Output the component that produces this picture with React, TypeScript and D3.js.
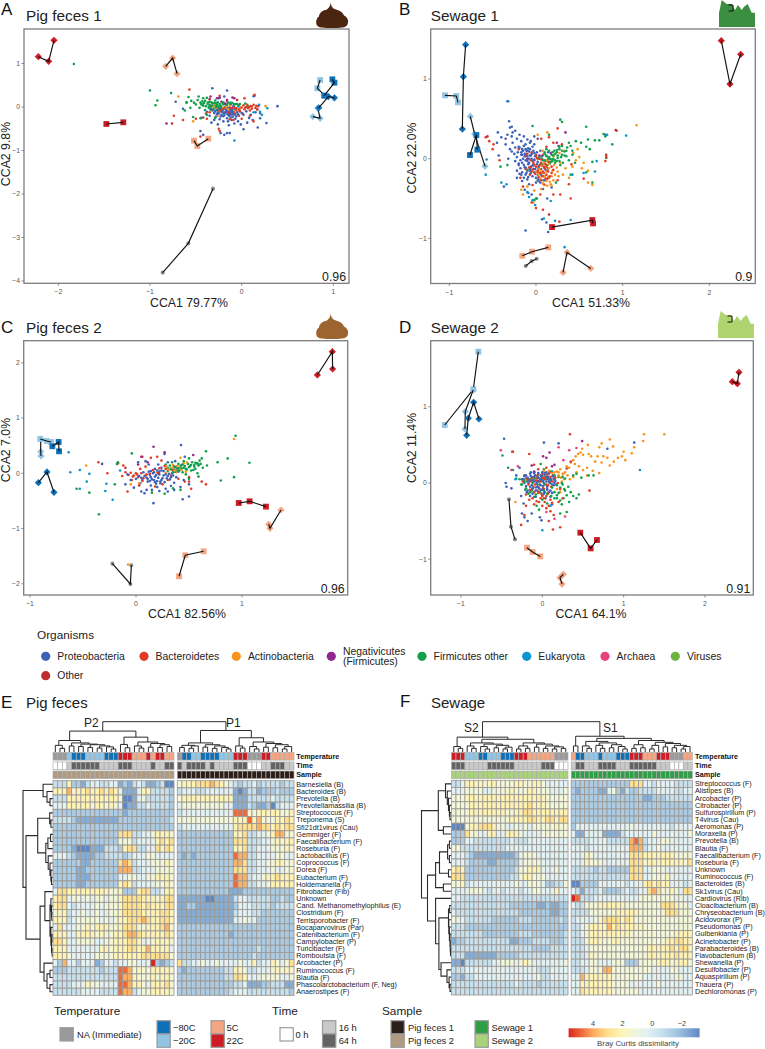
import * as d3 from 'd3';

const FONT = '"Liberation Sans", Arial, sans-serif';

// organisms legend
const taxonNames = ['Proteobacteria', 'Bacteroidetes', 'Actinobacteria', 'Negativicutes', 'Firmicutes other', 'Eukaryota', 'Archaea', 'Viruses', 'Other'];
const taxonColors = ['#3c62b8', '#e23b26', '#f7941d', '#92278f', '#12a14b', '#0a95d1', '#e8417f', '#6db33f', '#be2d2d'];
const taxonLegendX = [45.7, 144, 236.3, 331.3, 422, 526.7, 605, 675.3, 45.7];

// sample temperature colours
const tempColors: Record<string, string> = { N: '#9a9a9a', B: '#0f70b7', L: '#92c5e3', S: '#f4a582', R: '#cc1c25' };
const timeColors: Record<string, string> = { W: '#ffffff', L: '#c9c9c9', D: '#636363' };

// cloud points: flat x,y lists per taxon
const aProteo = [-.15,-.02,-.2,-.05,-.12,-.08,-.25,-.1,-.18,-.12,-.1,-.15,-.22,-.18,-.14,-.2,-.28,-.03,-.08,-.04,-.05,-.12,-.3,-.14,-.16,-.26,-.24,-.28,-.06,-.22,-.02,-.09,-.35,-.2,-.11,-.3,-.2,-.33,-.3,-.3,-.04,-.33,.02,-.18,.05,-.1,.08,-.25,.12,-.3,.15,-.12,.175,-.47,.27,-.37,.39,.02,.2,-.26,.13,.25,-.16,.38,-.32,.43,-.45,-.55,-.42,-.64,-.23,-.6,-.19,-.64,-.16,-.6,-.13,-.6,.02,-.51,-.64,-.04,-.72,.12,-.33,-.36,-.26,-.4,-.14,-.42,-.08,-.38,-.01,-.4,.06,-.36,-.21,-.08,-.17,.03,-.09,.02,-.13,-.14,-.19,-.15,-.23,-.22,-.27,-.16,-.32,-.08,-.38,-.11,-.42,-.24,-.07,-.27,.17,-.05,.2,-.14,.1,-.18,-.11,-.11,-.16,-.1,-.21,-.03,-.12,.06,-.07,.07,.14,.26,-.6,.11,-.23,.03,-.2,.1,-.35,.02,-.25,.2,-.19,.24,-.17,-.06,-.13,-.02,-.1,-.09,-.16,-.15,-.2,-.21,-.12,-.24,-.09,-.18,-.26,-.13,-.24,-.02,-.15,-.33,-.28,-.22];
const aBacte = [-.57,.4,-.74,-.2,-.64,-.3,-.45,-.68,-.44,-.25,-.38,-.27,-.5,-.27,-.39,-.15,-.24,.26,-.16,.14,.03,-.05,.07,-.03,.1,.02,.13,.05,.16,.03,.18,.02,.02,.04,-.02,-.1,-.06,-.07,-.1,-.03,-.13,-.28,-.03,-.2,.13,-.33,0,-.27,.05,0,-.25,-.5,-.24,-.55,-.18,.07,.14,.28,.03,.2,.09,-.2,-.09,-.3,-.22,-.05,.01,-.15,.09,-.08,.17,-.06,-.35,-.12,-.14,-.05,-.08,-.01,.11,-.04,.06,.05,-.01,-.02];
const aActino = [-.69,.24,-.53,-.33,.26,.02,-.28,-.04,-.24,-.11,-.3,.06,-.15,-.05,-.2,-.02,-.13,.03,-.08,-.1,-.02,-.03,-.36,.1,-.26,-.2,-.17,.01,-.31,0];
const aNega = [-.82,-.38,-.34,.24,-.27,.2,-.16,.16,-.1,.22,-.22,.12,-.18,.08,-.13,-.17,-.24,.22,-.08,.2];
const aFirmi = [-1.83,.99,-1,.38,-.77,.32,-.92,.15,-.94,.04,-.58,.23,-.55,.14,-.6,.1,-.56,-.02,-.5,.06,-.48,.16,-.45,.1,-.42,.03,-.4,.14,-.37,.07,-.36,-.02,-.33,.11,-.31,.04,-.3,-.03,-.28,.09,-.26,.02,-.24,.07,-.46,-.02,-.52,.1,-.42,.2,-.38,.21,-.29,.15,-.22,-.01,-.2,.06,-.18,0,-.34,-.06,-.4,-.07,-.47,.24,-.1,.09,-.05,.07,-.02,.07,.04,.08,.07,.02,-.53,-.23,-.45,-.26,-.62,-.08,-.38,-.18,-.29,-.25,-.15,.1,-.35,.05,-.32,.08,-.27,-.01,-.44,.06,-.41,.09,-.34,0];
const aEuka = [-.08,-.77,.28,-.03,.2,-.11,.19,.05,.22,-.18,.13,-.12,-.12,.1,-.04,.01];
const aOther = [-.76,-.38,-.05,.16,-.35,.18];
const aCoreProteo = [-.27,-.07,-.23,-.04,-.2,-.13,-.17,-.09,-.14,-.11,-.11,-.06,-.09,-.12,-.07,-.17,-.15,-.17,-.12,-.18,-.22,-.11,-.19,-.19,-.25,-.15,-.29,-.1,-.33,-.05,-.04,-.17,0,-.14,-.1,-.23];
const aCoreFirmi = [-.43,.06,-.39,.02,-.37,.1,-.35,.12,-.33,.03,-.3,.09,-.28,.02,-.26,.11,-.23,.03,-.21,.1,-.34,-.03,-.31,-.06,-.27,.06,-.25,-.04,-.43,.13,-.16,.05,-.13,.08,-.08,.06,-.03,.04];
const aCoreBacte = [-.19,-.03,-.12,-.02,-.06,-.03,-.03,-.06,0,-.01,.04,-.01,.08,0,.11,.01,-.08,-.14,-.15,-.13,.15,-.02,-.24,-.08];

const bProteo = [-.33,.72,-.31,.47,-.3,.39,-.28,.28,-.35,.25,-.44,.33,-.4,.27,-.45,.2,-.35,.18,-.3,.12,-.27,.2,-.22,.25,-.2,.15,-.17,.22,-.12,.18,-.15,.1,-.25,.06,-.32,0,-.22,.02,-.18,-.02,-.13,.03,-.08,.09,-.04,.15,-.1,-.03,-.05,0,-.14,-.08,-.18,-.12,-.22,-.15,-.1,-.15,-.06,-.1,0,.05,.02,-.04,.05,.1,-.03,-.07,.06,-.13,.02,-.2,-.04,-.22,-.1,-.26,-.16,-.28,-.22,-.24,-.08,-.32,0,-.3,.05,-.3,.09,-.22,.14,-.12,.1,-.03,.14,.08,-.24,.14,-.28,.09,-.37,-.35,-.43,.04,-.12,-.9,-.1,.1,-.16,.05,-.12,.12,-.07,.2,-.02,.28,-.27,.33,.02,.25,-.28,.4,-.33,.3,-.24,.35,-.19,.3,-.14,.28,-.1,.24,-.06,.22,-.02,.18,-.21,.08,-.17,.05,-.11,.06,-.07,.04,-.02,.07,-.24,-.03,-.2,-.08,-.16,-.17,-.12,-.2,-.07,-.15,-.03,-.13,-.08,-.05,-.12,-.11,-.19,-.19,.03,-.25,.1,-.27,-.13,-.39,-.09,-.43,-.05,-.45,.01,-.5,.08,-.38,.13,-.5,.18,-.36,.12,-.8,.07,-.76,.14,-.92,.8,.3];
const bBacte = [-.58,.27,-.54,.22,-.5,.12,-.49,.18,-.42,-.02,-.2,.12,-.12,.03,-.05,.08,-.02,-.08,.03,-.12,.06,-.05,.09,-.18,.12,-.1,.15,-.04,.02,-.17,-.07,-.2,-.12,-.13,-.02,-.02,.04,.03,.08,.05,.12,.15,.06,.25,.15,.27,.2,.2,.25,.38,.3,.18,.25,-.27,.38,-.32,.2,-.45,.28,-.45,.05,-.45,-.05,-.55,-.04,-.33,.09,-.32,.15,-.24,.18,-.18,.11,-.25,-.15,-.35,-.18,-.24,.4,-.5,.08,-.64,.27,-.79,0,-.62,.93,.35,.81,.02,.8,-.03,.55,-.25,.41,-.07,.01,.01,.07,-.08,-.06,-.11,.13,-.15];
const bActino = [1.16,.42,.13,.33,.02,.3,.08,.1,.1,-.05,.15,-.12,.18,-.22,.21,-.08,.25,-.16,.28,-.05,.31,-.2,.34,-.12,.38,-.24,.42,-.1,.46,-.02,.5,.02,.55,-.05,.6,-.15,.6,-.3,.65,-.33,.05,-.25,.1,-.33,.06,-.38,.17,-.32,-.1,-.35,-.17,-.39,-.15,-.45,-.02,-.4,-.03,-.55,.03,-.2,.2,.03,.12,-.02,.27,.07,.32,.1,.43,.07,.48,.12,.53,-.12];
const bNega = [.34,.33,.26,.16,.17,.07,.24,.2,-.1,0,.04,.04];
const bFirmi = [.28,.49,.3,.46,-.04,.41,.15,.3,.58,.4,.78,.31,.8,.28,.88,.18,.73,.23,.68,.23,.6,.24,.52,.2,.58,.15,.62,.12,.46,.22,.38,.2,.35,.1,.3,.1,.25,.04,.2,0,.18,.05,.15,.02,.13,-.03,.08,-.02,.1,.08,.17,-.04,.22,-.02,.28,-.08,.33,.04,.38,-.02,.42,.1,.45,-.05,.27,.12,.24,.08,.21,.1,.12,.12,.05,-.07,-.1,-.14,.02,-.27,.23,-.3,.4,-.2,.65,-.04,.81,.01,.58,-.17,.65,-.3,-.41,-.1,-.33,-.08,-.02,-.52,0,-.5,.16,0,.19,-.03,.12,.03,.29,.02,.24,-.03];
const bEuka = [-.32,.72,1.04,.29,.82,.3,-.57,-.01,-.58,-.2,-.4,-.3,-.34,-.32,-.1,-.42,-.01,-.58,-.04,-.52,.09,-.75,.22,-.78,.4,-.77,.33,-1.11,.42,-.2,.55,-.18,.17,-.53,-.08,-.48,.7,-.03,.68,-.16];
const bOther = [-.56,.28,.92,.36,.81,.05,.15,-.7];
const bCoreProteo = [-.19,.14,-.16,.12,-.14,.16,-.11,.1,-.09,.13,-.07,.12,-.05,.06,-.03,.1,-.01,.03,.01,.08,-.17,.08,-.13,.06,-.1,.03,-.08,0,-.06,.04,-.04,-.03,-.02,-.01,-.15,0,-.12,-.02,-.09,-.07,-.16,-.05,-.13,-.11,-.2,-.06,-.07,-.13,-.04,-.09,-.01,-.13,.01,-.07,.03,-.1,.04,0,.07,.03,-.11,-.18,-.06,-.18,-.02,-.17,0,-.24,.03,-.28,-.09,-.23,-.14,-.24,-.17,-.2,.06,-.2,.09,-.27,.11,-.14];
const bCoreBacte = [-.1,.06,-.06,-.02,-.03,-.05,0,-.1,.02,-.15,.05,-.18,.07,-.22,.1,-.12,.12,-.2,-.04,-.14,-.08,-.11,-.01,-.19,.03,-.23,.06,-.27,.09,-.1,0,.04,.04,-.08,.08,-.16,.11,-.07,.14,-.16,.16,-.22,.18,-.1,.2,-.14,.13,-.25,.06,-.01,.02,0,-.05,-.16];
const bCoreActino = [.04,-.13,.07,-.18,.09,-.06,.12,-.16,.14,-.23,.16,-.29,.19,-.15,.22,-.2,.24,-.11,.1,-.22,.12,-.28,.03,-.19,.06,-.09,.15,-.07,.26,-.22,.2,-.27,.08,-.31,.13,-.34,.18,-.34,.05,-.16,0,-.16];
const bCoreFirmi = [.04,.02,.07,0,.1,-.02,.12,.04,.14,0,.16,-.06,.18,-.01,.2,.04,.22,-.05,.25,.01,.27,-.03,.3,.05,.19,.08,.15,.1,.1,.06,.07,-.07,.13,-.08,.22,.06,.31,-.05,.33,.09,.35,.03,.24,.11,.27,.15,.36,.14,.42,.05,.4,.16,.3,.16];

const cProteo = [.165,-.54,.425,.51,-.32,.17,0,-.1,.03,-.05,.06,-.12,.1,-.08,.13,-.03,.15,-.11,.18,-.06,.2,-.14,.22,-.02,.25,-.09,.27,-.16,.3,-.05,.32,-.11,.34,0,.36,-.17,.38,-.07,.4,.03,.12,.16,.18,.08,.24,.1,.3,.2,.42,-.25,.45,-.12,.5,-.2,.36,-.3,.28,-.28,.2,-.25,.14,-.22,.08,-.36,.05,-.33,-.02,-.26,-.1,-.2,-.08,-.02,.02,.2,.09,.22,.15,-.3,.22,-.32,.3,-.33,.44,-.47,.5,-.42,.22,.03,.26,.04,.17,.02,.23,-.18,.33,-.23,.37,.22,.46,.3,.38,.1,.43,.15,.27,.35,.11,-.15,.1,-.3,.04,-.18,.19,-.19,-.05,-.12,.21,.16,.14,.04];
const cBacte = [-.355,.2,-.27,0,-.17,.18,-.12,.14,-.1,.02,-.13,-.05,-.07,-.03,-.04,-.12,0,0,.04,.08,.09,.12,-.08,-.33,.02,-.07,.06,.3,.14,.28,.2,.3,.24,.23,.18,-.24,.25,-.2,.4,-.1,.46,-.15,.5,-.15,.52,-.28,.5,-.07,.62,-.15,.66,-.2,.28,.08,.1,-.02,-.03,-.06,.07,-.09,.34,.06,.3,-.12];
const cActino = [.925,.62,-.47,.14,-.075,-1.65,.32,.08,.35,.15,.38,.02,.41,.1,.45,.18,.48,.2,.28,.01,-.05,-.2,.03,-.18,.2,.02,.42,.28,.47,.03];
const cNega = [.165,.48,.54,.33,.11,.2,.02,.16,.05,.3,.27,.38];
const cFirmi = [.94,.68,.865,.27,1.07,.19,.925,-.07,.8,-.13,.77,.2,.67,.14,-.35,-.74,-.56,-.28,-.44,-.35,-.04,.36,.66,.4,.62,.27,.6,.23,.58,.18,.55,.15,.53,.2,.51,.13,.49,.17,.47,.08,.45,.1,.42,.13,.4,.17,.38,.12,.36,.07,.34,.2,.32,.14,.3,.1,.28,.16,.52,.05,.56,.08,.59,.14,.63,.1,.41,.05,.45,.22,.5,.27,.54,.06,.58,0,.59,-.06,.5,-.1,.57,.18,.61,.17,.35,-.27,.42,-.3,.27,-.37,.15,-.35,-.17,.2,-.18,.17,-.2,-.2,.35,.02,.47,-.02,.44,.02];
const cEuka = [-.635,.38,-.62,.02,-.53,.06,-.44,-.01,-.465,-.15,-.53,-.28,-.29,-.32,-.28,-.19,-.22,-.48,-.15,.05];
const cOther = [-.1,.1,.03,-.22,.21,0];
const cCoreProteo = [.05,-.08,.08,-.05,.11,-.1,.14,-.07,.17,-.12,.19,-.03,.21,-.08,.24,-.12,.26,-.04,.29,-.09,.31,-.01,.33,-.07,.16,0,.12,.03,.2,.05,.24,.05,.28,-.02,.23,-.15,.18,-.16,.13,-.14,.35,-.04,.07,.02];
const cCoreFirmi = [.3,.04,.33,.08,.36,.12,.39,.06,.43,.09,.46,.13,.48,.07,.5,.11,.52,.15,.55,.12,.56,.19,.59,.16,.44,.16,.4,.09,.37,.03];
const cCoreBacte = [-.02,-.04,.01,-.02,.05,0,.09,-.04,.13,-.01,.22,.09,.27,.13,.33,-.04,-.05,.01,.06,-.14,.16,.06];
const cCoreActino = [.31,.06,.34,.1,.37,.05,.39,.13,.43,.06,.29,.12];

const dProteo = [-.47,.58,1.13,.53,.8,.45,-.45,0,-.44,-.05,-.38,-.07,-.32,.1,-.28,.2,-.24,.05,-.2,.1,-.17,0,-.15,-.05,-.12,.07,-.1,.02,-.08,-.06,-.06,.08,-.04,.02,-.02,-.03,0,.06,.02,0,.04,.08,.06,-.05,.08,.02,.1,.06,.12,-.02,-.18,-.1,-.12,-.14,-.08,-.18,-.04,-.12,0,-.16,.04,-.2,.1,-.18,-.26,-.17,-.23,-.27,-.25,-.4,-.22,-.45,-.18,-.5,-.13,-.4,-.03,-.45,-.01,-.49,-.01,.05,.02,.53,.2,.52,.12,-.28,-.14,.14,-.1,.15,-.05,.12,.03,.13,.08,.12,-.1,.08,-.06,.03,-.02,.1,.03,.05,-.13,.03,-.16,.05,.14,.06,.15,0,.06,-.09,.08,-.12,-.02,-.09];
const dBacte = [.34,.64,-.37,.41,.58,-.1,-.16,.38,-.1,.24,-.05,.18,0,.12,.05,.2,.09,.14,.13,.1,-.22,.1,-.14,.02,-.09,-.02,-.03,.04,.02,-.08,.07,-.14,.11,-.05,-.2,-.15,-.16,-.22,-.1,-.28,-.04,-.25,0,-.3,.05,-.33,.1,-.37,.14,-.42,.08,-.5,.13,-.61,.22,-.58,-.2,-.3,-.26,-.55,-.22,-.42,.2,-.25,.25,-.2,.35,.28,.3,.19,-.06,-.1,-.02,.05,.05,-.02,.1,.02,.02,.07,-.12,-.08,-.07,.06,-.01,-.14,.02,-.2];
const dActino = [1.5,.64,1.25,.64,1.24,.55,.83,.57,.73,.52,.87,.48,.7,.47,.56,.5,.49,.45,1.13,.47,1.1,.39,1,.41,.98,.35,1.02,.3,.88,.28,.8,.33,.75,.35,.68,.35,.65,.28,.6,.35,.57,.38,.5,.37,.47,.4,.44,.38,.41,.35,.38,.3,.35,.27,.33,.2,.3,.22,.28,.14,.25,.12,.22,.18,.2,.14,.4,.25,.45,.22,.5,.17,.55,.2,.62,.16,.7,.13,.55,.1,.42,.14,.38,.08,.34,.05,.31,.1,.27,.05,.24,.02,.93,.33,.73,.27,.83,.23,-.33,-.25];
const dNega = [.49,.55,.09,.4,.05,.33,.01,.35,.12,.22,.15,.24,-.13,.23,-.1,.14];
const dFirmi = [-.49,.36,-.36,.41,-.42,.2,-.36,.17,-.32,.06,-.28,.05,-.25,-.02,-.22,.03,-.2,-.07,-.15,-.12,-.1,-.18,-.05,.02,0,.1,.05,.08,.1,0,.15,.05,.18,-.03,.2,.08,.22,-.06,.25,-.02,.28,-.1,.3,-.16,.35,-.12,.38,-.17,.42,-.2,.45,-.15,.26,-.2,.22,-.23,.18,-.16,.15,-.2,.42,.12,.48,.07,.57,.1,.63,.1,.38,.1,.1,.15,.06,-.27,0,-.22,-.07,-.3,-.04,-.35,.22,-.4,.3,-.38,.24,-.28,.33,-.25,.02,.18,-.02,.25];
const dEuka = [1.2,.17,0,-.62,-.33,.05,.12,.15,.1,-.3];
const dOther = [-.51,.43,.2,.47,.33,.43,.42,.46,.15,-.47,.28,-.44,.05,-.38,-.3,.22,.26,.3,-.38,.17];
const dCoreProteo = [-.25,.05,-.22,0,-.2,-.04,-.18,.07,-.16,.03,-.14,.09,-.13,-.03,-.11,.04,-.09,.1,-.07,0,-.05,.07,-.03,-.02,-.01,.09,.01,.03,.03,.11,.05,.02,.07,.08,.09,0,.11,.04,.13,.09,.14,-.03,.16,.03,-.12,-.07,-.08,-.1,-.04,-.07,0,-.09,.03,-.12,.06,-.08,.1,-.1,-.15,.12,-.1,.13,-.05,.13,0,.14,.05,.14,-.19,-.12,-.15,-.17,.02,-.14,.12,-.13,-.22,.09,.07,.05,.01,-.04,-.06,-.05,-.02,.05];
const dCoreBacte = [-.24,.02,-.2,.06,-.17,-.02,-.13,.06,-.11,-.05,-.08,.03,-.05,-.05,-.02,.02,.01,-.07,.04,.05,.07,-.03,.1,.08,.13,.02,-.15,-.09,-.1,-.12,-.05,-.13,0,-.17,.05,-.17,.1,-.22,-.12,-.2,-.07,-.24,-.02,-.2,.03,-.25,.08,-.3,.12,-.26,-.18,.04,-.06,.1,0,.07,.06,.11,.16,.07,.19,0,.22,-.08];
const dCoreFirmi = [-.26,-.02,-.23,.05,-.19,.02,-.15,.05,-.12,0,-.09,.06,-.06,-.02,-.03,.06,0,.02,.03,-.02,.06,.06,.09,.04,.12,-.06,.15,.1,.17,-.02,.2,-.13,.24,0,.27,-.08,-.21,-.09,-.17,-.14,-.13,-.1,-.08,-.15,-.03,-.12,.02,-.1,.06,-.14,.11,-.17,.15,-.12,.18,-.2,.32,-.05,.28,.06,.25,.08];
const dCoreActino = [.2,.1,.23,.07,.26,.12,.18,.15,.15,.14,.12,.13,.08,.16,.22,-.12,.18,-.08,.02,.16];

type Marker = { temp: string; shape: string; pts: number[][] };

const aGroups: Marker[] = [
  { temp: 'R', shape: 'd', pts: [[-2.218, 1.157], [-2.105, 1.05], [-2.047, 1.533]] },
  { temp: 'R', shape: 's', pts: [[-1.476, -0.39], [-1.291, -0.352]] },
  { temp: 'S', shape: 'd', pts: [[-0.829, 0.935], [-0.753, 1.126], [-0.705, 0.766]] },
  { temp: 'S', shape: 's', pts: [[-0.52, -0.774], [-0.484, -0.897], [-0.364, -0.728]] },
  { temp: 'N', shape: 'c', pts: [[-0.862, -3.808], [-0.582, -3.134], [-0.313, -1.877]] },
  { temp: 'L', shape: 's', pts: [[0.855, 0.62], [0.825, 0.43], [0.91, 0.26]] },
  { temp: 'L', shape: 'd', pts: [[0.83, -0.03], [0.855, -0.26], [0.775, -0.22]] },
  { temp: 'B', shape: 's', pts: [[0.989, 0.636], [1.011, 0.559], [0.9, 0.26]] },
  { temp: 'B', shape: 'd', pts: [[1.011, 0.21], [0.945, 0.24], [0.84, -0.02]] },
];
const bGroups: Marker[] = [
  { temp: 'L', shape: 's', pts: [[-1.05, 0.795], [-0.919, 0.787], [-0.9, 0.707]] },
  { temp: 'L', shape: 'd', pts: [[-0.758, 0.531], [-0.708, 0.31], [-0.588, -0.096]] },
  { temp: 'B', shape: 'd', pts: [[-0.812, 1.431], [-0.838, 1.029], [-0.85, 0.372]] },
  { temp: 'B', shape: 's', pts: [[-0.762, 0.046], [-0.688, 0.297], [-0.677, 0.113]] },
  { temp: 'R', shape: 'd', pts: [[2.138, 1.481], [2.238, 0.937], [2.362, 1.31]] },
  { temp: 'R', shape: 's', pts: [[0.185, -0.858], [0.65, -0.77], [0.658, -0.812]] },
  { temp: 'S', shape: 's', pts: [[-0.158, -1.218], [-0.046, -1.167], [0.142, -1.113]] },
  { temp: 'S', shape: 'd', pts: [[0.312, -1.427], [0.358, -1.176], [0.631, -1.377]] },
  { temp: 'N', shape: 'c', pts: [[-0.119, -1.347], [-0.05, -1.285], [0.008, -1.255]] },
];
const cGroups: Marker[] = [
  { temp: 'L', shape: 'd', pts: [[-0.899, 0.621], [-0.899, 0.392], [-0.896, 0.314]] },
  { temp: 'L', shape: 's', pts: [[-0.903, 0.621], [-0.843, 0.585], [-0.802, 0.567]] },
  { temp: 'B', shape: 's', pts: [[-0.789, 0.489], [-0.73, 0.567], [-0.726, 0.398]] },
  { temp: 'B', shape: 'd', pts: [[-0.921, -0.169], [-0.84, 0.024], [-0.774, -0.344]] },
  { temp: 'R', shape: 'd', pts: [[1.711, 1.78], [1.852, 2.202], [1.855, 1.888]] },
  { temp: 'R', shape: 's', pts: [[0.969, -0.537], [1.072, -0.507], [1.226, -0.603]] },
  { temp: 'S', shape: 'd', pts: [[1.368, -0.664], [1.264, -0.995], [1.252, -0.923]] },
  { temp: 'S', shape: 's', pts: [[0.406, -1.864], [0.465, -1.484], [0.638, -1.412]] },
  { temp: 'N', shape: 'c', pts: [[-0.223, -1.635], [-0.053, -2.003], [-0.044, -1.665]] },
];
const dGroups: Marker[] = [
  { temp: 'L', shape: 's', pts: [[-0.787, 1.724], [-0.848, 1.23], [-1.2, 0.761]] },
  { temp: 'L', shape: 'd', pts: [[-0.951, 0.709], [-0.947, 0.937], [-0.85, 1.22]] },
  { temp: 'B', shape: 'd', pts: [[-0.93, 0.626], [-0.91, 0.85], [-0.844, 1.059], [-0.779, 0.84]] },
  { temp: 'R', shape: 'd', pts: [[2.336, 1.33], [2.398, 1.304], [2.418, 1.453]] },
  { temp: 'R', shape: 's', pts: [[0.467, -0.652], [0.594, -0.858], [0.672, -0.748]] },
  { temp: 'S', shape: 's', pts: [[-0.189, -0.849], [-0.119, -0.906], [-0.025, -0.963]] },
  { temp: 'S', shape: 'd', pts: [[0.258, -1.199], [0.217, -1.243], [0.242, -1.326]] },
  { temp: 'N', shape: 'c', pts: [[-0.41, -0.214], [-0.385, -0.573], [-0.336, -0.74]] },
];

const panels = [
  { letter: 'A', title: 'Pig feces 1', xLab: 'CCA1 79.77%', yLab: 'CCA2 9.8%', r2: '0.96', icon: 'poop', iconColor: '#4a2510',
    xTicks: [-2, -1, 0, 1], yTicks: [-4, -3, -2, -1, 0, 1], box: [24, 29, 349, 283.3],
    xm: [241.7, 91.7], ym: [107, 43.5], labelX: 1, titleX: 26, titleY: 20.7, letterY: 15, xLabX: 189, xLabY: 307, yLabX: 10, yLabY: 154,
    iconX: 316, iconY: 1.5,
    cloud: [aProteo, aBacte, aFirmi, aActino, aNega, aEuka, aOther, aCoreFirmi, aCoreProteo, aCoreBacte],
    cloudTaxa: [0, 1, 4, 2, 3, 5, 8, 4, 0, 1], groups: aGroups },
  { letter: 'B', title: 'Sewage 1', xLab: 'CCA1 51.33%', yLab: 'CCA2 22.0%', r2: '0.9', icon: 'sewage', iconColor: '#3a8f41',
    xTicks: [-1, 0, 1, 2], yTicks: [-1, 0, 1], box: [430.7, 29, 755.3, 283.5],
    xm: [536, 86.67], ym: [158.7, 79.7], labelX: 399, titleX: 430.7, titleY: 20.7, letterY: 15, xLabX: 591, xLabY: 307, yLabX: 416, yLabY: 158,
    iconX: 719, iconY: 0,
    cloud: [bProteo, bFirmi, bActino, bBacte, bNega, bEuka, bOther, bCoreProteo, bCoreFirmi, bCoreActino, bCoreBacte],
    cloudTaxa: [0, 4, 2, 1, 3, 5, 8, 0, 4, 2, 1], groups: bGroups },
  { letter: 'C', title: 'Pig feces 2', xLab: 'CCA1 82.56%', yLab: 'CCA2 7.0%', r2: '0.96', icon: 'poop', iconColor: '#9c6430',
    xTicks: [-1, 0, 1], yTicks: [-2, -1, 0, 1, 2], box: [23.7, 340.7, 347.7, 595],
    xm: [136, 106], ym: [473.3, 55.25], labelX: 1, titleX: 26, titleY: 333, letterY: 333, xLabX: 187, xLabY: 618, yLabX: 10, yLabY: 450,
    iconX: 316, iconY: 312.5,
    cloud: [cBacte, cProteo, cFirmi, cActino, cNega, cEuka, cOther, cCoreBacte, cCoreFirmi, cCoreProteo, cCoreActino],
    cloudTaxa: [1, 0, 4, 2, 3, 5, 8, 1, 4, 0, 2], groups: cGroups },
  { letter: 'D', title: 'Sewage 2', xLab: 'CCA1 64.1%', yLab: 'CCA2 11.4%', r2: '0.91', icon: 'sewage', iconColor: '#afd36f',
    xTicks: [-1, 0, 1, 2], yTicks: [-1, 0, 1], box: [430.7, 340.7, 753.3, 595],
    xm: [542.3, 81.33], ym: [483, 76.2], labelX: 399, titleX: 430.7, titleY: 333, letterY: 333, xLabX: 591, xLabY: 618, yLabX: 416, yLabY: 448,
    iconX: 718, iconY: 311,
    cloud: [dActino, dFirmi, dProteo, dBacte, dNega, dEuka, dOther, dCoreActino, dCoreFirmi, dCoreBacte, dCoreProteo],
    cloudTaxa: [2, 4, 0, 1, 3, 5, 6, 2, 4, 1, 0], groups: dGroups },
];

// heatmap E
const eRows = ['Barnesiella (B)', 'Bacteroides (B)', 'Prevotella (B)', 'Prevotellamassilia (B)', 'Streptococcus (F)', 'Treponema (S)', 'Sfi21dt1virus (Cau)', 'Gemmiger (F)', 'Faecalibacterium (F)', 'Roseburia (F)', 'Lactobacillus (F)', 'Coprococcus (F)', 'Dorea (F)', 'Eubacterium (F)', 'Holdemanella (F)', 'Fibrobacter (Fib)', 'Unknown', 'Cand. Methanomethylophilus (E)', 'Clostridium (F)', 'Terrisporobacter (F)', 'Bocaparvovirus (Par)', 'Catenibacterium (F)', 'Campylobacter (P)', 'Turicibacter (F)', 'Romboutsia (F)', 'Arcobacter (P)', 'Ruminococcus (F)', 'Blautia (F)', 'Phascolarctobacterium (F, Neg)', 'Anaerostipes (F)'];
const eLeft = ['33362 21344 33441 21343 11230 0', '66685 66766 76764 11146 63333 2', '33366 66666 66665 00145 33333 2', '44466 66656 65654 01133 43333 2', '22222 22222 22222 12222 22222 2', '33332 11111 11112 22222 22222 3', '22222 22222 22222 22222 22222 2', '22222 22222 22227 77334 45666 5', '22222 22222 22225 55344 44676 7', '22221 00011 13332 67733 44767 6', '44432 11112 23333 23444 55444 4', '22222 21122 22227 87344 45556 5', '22222 11222 22228 88334 44555 5', '22222 11122 22224 45544 55666 5', '22222 11222 22226 76344 44556 5', '47766 66666 66556 22267 73346 6', '67745 54545 54556 77776 66567 7', '67743 44445 45556 77776 76667 7', '56634 45445 44556 77776 66677 6', '66634 55555 45456 67778 76677 6', '47444 55656 66556 77755 66678 5', '66644 66665 65566 78876 66667 6', '77644 55554 45566 67764 55666 5', '66644 44444 66566 67766 86666 4', '66654 44445 55566 66667 77777 5', '42844 24441 24434 45544 4a212 3', '22233 33333 23339 98565 56666 5', '33333 33333 33339 88655 56566 5', '33334 44655 44449 98665 46667 5', '33333 34444 33339 88345 56666 5'];
const eRight = ['56667 77876 54323 34233 33233', '34443 34444 44101 33122 23222', '56666 66666 66111 33333 43333', '45555 55555 44111 32112 03444', '34444 44444 44999 55666 66556', '55555 55555 55666 96855 56676', '34444 44444 44677 77877 67677', '22222 22222 22667 33445 68855', '22222 22222 22777 33344 56566', '22222 22222 22667 33444 55565', '21212 22222 22988 33444 45544', '22222 22222 22887 33445 56655', '22222 22222 22777 33444 54455', '22222 22222 22988 34456 67666', '22222 22222 22988 33445 66666', '22222 22222 21112 22222 22222', '11111 10011 11344 33333 22322', '11221 11111 11244 43333 23333', '11111 11111 11344 43322 22222', '11111 11111 11445 44222 22222', '22222 22222 22222 22222 22222', '22222 22222 21222 22222 22222', '22222 22222 22222 22222 22222', '22222 22222 22222 22322 22222', '22222 22222 22222 23222 22222', '73344 54454 44454 46344 65457', '21222 22222 33665 33444 56565', '22222 22222 33776 44455 55445', '22222 22222 22334 11122 33311', '22222 22222 23444 33333 33332'];
const eLeftTemp = 'NNNLBBBLLLLBBBRRRSSSRSRRSS';
const eLeftTime = 'WWWLDDDDDDLLLLDDDLLLLDLLDD';
const eRightTemp = 'NBBLLBBBBLLLRRRNNNRRSSSSS';
const eRightTime = 'DLDDDDLDLLLLDDDWWWLLDDDLL';

// heatmap F
const fRows = ['Streptococcus (F)', 'Alistipes (B)', 'Arcobacter (P)', 'Citrobacter (P)', 'Sulfurospirillum (P)', 'T4virus (Cau)', 'Aeromonas (P)', 'Moraxella (P)', 'Prevotella (B)', 'Blautia (F)', 'Faecalibacterium (F)', 'Roseburia (F)', 'Unknown', 'Ruminococcus (F)', 'Bacteroides (B)', 'Sk1virus (Cau)', 'Cardiovirus (Rib)', 'Cloacibacterium (B)', 'Chryseobacterium (B)', 'Acidovorax (P)', 'Pseudomonas (P)', 'Gulbenkiania (P)', 'Acinetobacter (P)', 'Parabacteroides (B)', 'Flavobacterium (B)', 'Shewanella (P)', 'Desulfobacter (P)', 'Aquaspirillum (P)', 'Thauera (P)', 'Dechloromonas (P)'];
const fLeft = ['33466 66566 55556 65566 54444 4', '44455 55445 55565 55665 55444 5', '55566 66666 66666 66666 65555 5', '55556 66666 66666 66766 65555 5', '55556 66666 66556 67766 66666 6', '55555 55555 55566 66776 67767 7', '00056 67776 55445 45455 55565 5', '22275 54466 44666 54444 55555 5', '22244 33333 33343 33444 44444 4', '55333 33333 33444 44444 44444 4', '44432 11111 11112 45554 44444 4', '44432 22211 22222 45555 44444 4', '67622 22222 22223 55666 44454 4', '77722 22222 22233 56655 54444 4', '55634 44444 44445 44555 42233 5', '44445 55434 43444 34455 44464 4', '44333 33333 33333 33333 33333 3', '33333 33333 33322 22221 12112 2', '43333 33333 33333 22222 22112 2', '54433 33332 22222 33322 22223 2', '33322 22222 22222 22222 22222 2', '33333 33222 22222 33322 22222 3', '12233 33333 33311 22233 33222 3', '33333 33333 33333 33322 22333 3', '33311 11111 22222 33333 33333 3', '11033 33334 45554 56544 44444 5', '33344 44444 44444 44443 33444 4', '22133 44444 44444 44445 33444 4', '33333 33333 33334 33332 33333 3', '33333 33333 33333 33333 33333 3'];
const fRight = ['22222 22222 22277 74434 44433 33', '21222 21145 21322 33334 44433 44', '22222 22222 22222 21122 23333 33', '22222 22222 22222 22222 22222 22', '22222 22222 22222 22222 22222 22', '22222 22222 22222 22222 22222 22', '24444 44444 44454 44444 44344 44', '41144 44111 13444 44454 44444 45', '33334 44433 33389 83444 55444 44', '44434 44444 44488 83445 44444 44', '44465 44444 44477 76666 66655 55', '44465 55444 44477 75666 66666 57', '33333 23322 22277 74455 54444 44', '33333 33333 33377 74455 56444 44', '00222 24444 44344 46767 66444 34', '43133 34222 23433 44787 55654 77', 'a9333 44444 44444 55555 55545 44', '43355 56666 66555 55555 77765 54', '33335 55555 66666 55555 57775 55', '34444 55777 76765 55555 55555 55', '33456 66686 76666 65555 55555 55', '33456 66666 66655 55555 55566 66', '33356 66556 65555 55555 56677 66', '33345 55555 55555 55666 66767 76', '33346 55555 55555 55666 66676 66', '33445 54445 55222 55556 66566 65', '33345 55885 55555 55544 44554 44', '44866 66665 55555 54444 44455 44', '44666 66665 55544 44445 44444 44', '44766 66665 55555 44444 44444 44'];
const fLeftTemp = 'RRRLLLBBLLLBBBRRRSSSSSSNNN';
const fLeftTime = 'DDDLLLLLDDDDDDLLLLLLDDDWWW';
const fRightTemp = 'SBBLLLBLLLBBBRRRSSSRRRNNNSS';
const fRightTime = 'LDDLLLDDDDLLLDDDDDDLLLWWWLL';

const heatStops = ['#5f87c1', '#86add5', '#abcce4', '#c8e1ef', '#e2f1f3', '#f1f7d8', '#fdf3b4', '#fee08e', '#fcb262', '#ee6a3c', '#d7261e'];
const heatColor = d3.scaleLinear<string>().domain(d3.range(heatStops.length)).range(heatStops);

// dendrograms: [height, child, child], 0 is a leaf
type Dend = number | Dend[];
const eColTree: Dend = [1,
  [.69,
    [.38, [.22, 0, [.12, 0, 0]], [.3, [.2, 0, 0], [.26, [.18, 0, 0], [.24, [.15, 0, 0], [.2, [.13, 0, 0], [.17, 0, [.1, 0, 0]]]]]]],
    [.49, [.25, 0, [.14, 0, 0]], [.33, [.2, 0, [.13, 0, 0]], [.28, [.16, 0, 0], [.24, [.15, 0, 0], [.18, 0, 0]]]]]],
  [.71,
    [.3, [.22, [.15, 0, 0], [.2, [.12, 0, 0], 0]], [.24, [.16, 0, 0], [.2, [.12, 0, 0], [.15, 0, [.1, 0, 0]]]]],
    [.47, [.2, 0, [.13, 0, 0]], [.33, [.18, 0, [.1, 0, 0]], [.28, [.16, 0, 0], [.24, [.14, 0, 0], [.18, [.1, 0, 0], 0]]]]]]];
const fColTree: Dend = [1,
  [.49,
    [.18, 0, [.12, 0, 0]],
    [.42, [.3, [.2, 0, [.12, 0, 0]], [.26, [.18, 0, [.1, 0, 0]], [.22, [.14, 0, 0], [.16, [.1, 0, 0], 0]]]],
      [.3, [.2, [.1, 0, 0], [.12, 0, 0]], [.26, [.16, 0, 0], [.2, [.12, 0, 0], [.17, [.1, 0, 0], [.12, 0, 0]]]]]]],
  [.52,
    [.2, 0, 0],
    [.45, [.35, [.2, 0, [.12, 0, 0]], [.3, [.22, 0, [.12, 0, 0]], [.24, [.14, 0, 0], [.18, 0, [.1, 0, 0]]]]],
      [.38, [.24, [.12, 0, 0], [.14, 0, 0]], [.32, [.22, [.1, 0, 0], 0], [.28, [.17, 0, 0], [.22, [.14, 0, 0], [.18, [.1, 0, 0], 0]]]]]]]];
const eRowTree: Dend = [1,
  [.33, 0, [.2, 0, [.1, 0, 0]]],
  [.9,
    [.51, [.11, 0, [.07, 0, 0]], [.24, [.17, [.08, 0, 0], 0], [.16, 0, [.1, 0, [.07, 0, [.05, 0, 0]]]]]],
    [.43, [.27, 0, [.1, [.07, 0, [.05, 0, [.04, 0, 0]]], [.07, 0, [.05, [.03, 0, 0], [.03, 0, 0]]]]],
      [.3, 0, [.2, [.1, 0, 0], [.1, 0, 0]]]]]];
const fRowTree: Dend = [1,
  [.44, [.2, 0, [.14, 0, [.1, 0, [.07, 0, [.05, 0, 0]]]]], [.27, 0, 0]],
  [.8,
    [.53, [.4, [.13, [.07, 0, 0], [.07, 0, 0]], [.1, 0, 0]], [.27, 0, 0]],
    [.53, 0, [.42, [.1, [.06, 0, 0], [.09, 0, [.07, 0, [.05, 0, [.04, 0, [.03, 0, 0]]]]]],
      [.35, 0, [.15, 0, [.08, 0, [.05, 0, 0]]]]]]]];

function dendroPath(tree: Dend, leafPos: number[], depth: d3.ScaleLinear<number, number>, vertical: boolean) {
  const root = d3.hierarchy<any>(tree, d => (Array.isArray(d) ? d.slice(1) : null));
  const at = new Map<any, { p: number; h: number }>();
  let k = 0;
  root.eachAfter(n => {
    if (!n.children) at.set(n, { p: leafPos[k++], h: 0 });
    else {
      const a = at.get(n.children[0])!;
      const b = at.get(n.children[n.children.length - 1])!;
      at.set(n, { p: (a.p + b.p) / 2, h: n.data[0] });
    }
  });
  const path = d3.path();
  const mv = (p: number, h: number) => (vertical ? path.moveTo(p, depth(h)) : path.moveTo(depth(h), p));
  const ln = (p: number, h: number) => (vertical ? path.lineTo(p, depth(h)) : path.lineTo(depth(h), p));
  root.each(n => {
    if (!n.children) return;
    const { h } = at.get(n)!;
    const a = at.get(n.children[0])!;
    const b = at.get(n.children[n.children.length - 1])!;
    mv(a.p, a.h); ln(a.p, h); ln(b.p, h); ln(b.p, b.h);
  });
  return path.toString();
}

const poop = 'M14.5 0C15 4 13 6 11 8C6 9 3 12 3 15C0 17 -0.5 21 1 24C3 26.5 8 26.5 16 26.5C24 26.5 30 26.5 31.5 23C33 20 32 16 28 14C27 11 24 9 20 8C16 7 15 4 14.5 0Z';
const sewage = 'M0 13L2.7 0L7.7 4L12.7 4L16 10L19 5L22.7 10L25 6.7L28.7 4L32.7 12.7L36 12.7L36 27L0 27Z';

function Panel({ p }: { p: (typeof panels)[number] }) {
  const [x0, y0, x1, y1] = p.box;
  const x = d3.scaleLinear().domain([(x0 - p.xm[0]) / p.xm[1], (x1 - p.xm[0]) / p.xm[1]]).range([x0, x1]);
  const y = d3.scaleLinear().domain([(p.ym[0] - y1) / p.ym[1], (p.ym[0] - y0) / p.ym[1]]).range([y1, y0]);
  const lineGen = d3.line<number[]>().x(d => x(d[0])).y(d => y(d[1]));
  const sym = (shape: string) => {
    if (shape === 's') return d3.symbol().type(d3.symbolSquare).size(34)()!;
    if (shape === 'd') return d3.symbol().type(d3.symbolSquare).size(26)()!;
    return d3.symbol().type(d3.symbolCircle).size(13)()!;
  };
  return (
    <g>
      <text x={p.labelX} y={p.letterY} fontSize={17} fill="#111">{p.letter}</text>
      <text x={p.titleX} y={p.titleY} fontSize={15.3} fill="#222">{p.title}</text>
      {p.icon === 'poop'
        ? <path d={poop} fill={p.iconColor} transform={`translate(${p.iconX},${p.iconY})`} />
        : <g transform={`translate(${p.iconX},${p.iconY})`}>
            <path d={sewage} fill={p.iconColor} />
            <path d="M9.5 5H14V11H9.5" fill="none" stroke="#111" strokeWidth={1} />
          </g>}
      <rect x={x0} y={y0} width={x1 - x0} height={y1 - y0} fill="#fff" stroke="#7d7d7d" strokeWidth={1.3} />
      {p.xTicks.map(t => (
        <g key={t}>
          <line x1={x(t)} x2={x(t)} y1={y1} y2={y1 + 2.5} stroke="#666" strokeWidth={0.7} />
          <text x={x(t)} y={y1 + 11} fontSize={6.8} textAnchor="middle" fill="#555">{t < 0 ? `\u2212${-t}` : t}</text>
        </g>
      ))}
      {p.yTicks.map(t => (
        <g key={t}>
          <line x1={x0 - 2.5} x2={x0} y1={y(t)} y2={y(t)} stroke="#666" strokeWidth={0.7} />
          <text x={x0 - 4} y={y(t) + 2.4} fontSize={6.8} textAnchor="end" fill="#555">{t < 0 ? `\u2212${-t}` : t}</text>
        </g>
      ))}
      <text x={p.xLabX} y={p.xLabY} fontSize={12.3} textAnchor="middle" fill="#222">{p.xLab}</text>
      <text transform={`translate(${p.yLabX},${p.yLabY}) rotate(-90)`} fontSize={12.3} textAnchor="middle" fill="#222">{p.yLab}</text>
      {p.cloud.map((flat, c) => d3.range(0, flat.length - 1, 2).map(i => (
        <circle key={`${c}-${i}`} cx={x(flat[i])} cy={y(flat[i + 1])} r={1.3} fill={taxonColors[p.cloudTaxa[c]]} />
      )))}
      {p.groups.map((g, i) => (
        <g key={i}>
          {g.pts.map((d, j) => (
            <path key={j} d={sym(g.shape)} fill={g.shape === 'c' ? '#8d8d8d' : tempColors[g.temp]}
              transform={`translate(${x(d[0])},${y(d[1])})${g.shape === 'd' ? ' rotate(45)' : ''}`} />
          ))}
          <path d={lineGen(g.pts) || ''} fill="none" stroke="#111" strokeWidth={1.15} />
        </g>
      ))}
      <text x={x1 - 3} y={y1 - 2.5} fontSize={12.3} textAnchor="end" fill="#222">{p.r2}</text>
    </g>
  );
}

const clean = (s: string) => s.replace(/\s/g, '');

function Heatmap({ rows, left, right, x0, x1, x2, x3, labelX, lTemp, lTime, rTemp, rTime, sampleColor, sampleColor2, colTree, rowTree, annY, heatY }: any) {
  const nL = clean(left[0]).length;
  const nR = clean(right[0]).length;
  const bandL = d3.scaleBand<number>().domain(d3.range(nL)).range([x0, x1]);
  const bandR = d3.scaleBand<number>().domain(d3.range(nR)).range([x2, x3]);
  const rowH = 7.155;
  const yRow = d3.scaleBand<number>().domain(d3.range(rows.length)).range([heatY, heatY + rowH * rows.length]);
  const leafPos = [...bandL.domain().map(i => bandL(i)! + bandL.bandwidth() / 2), ...bandR.domain().map(i => bandR(i)! + bandR.bandwidth() / 2)];
  const colDepth = d3.scaleLinear().domain([0, 1]).range([annY[0] - 0.5, 721.7]);
  const rowDepth = d3.scaleLinear().domain([0, 1]).range([x0, x0 - 30]);
  const rowPos = d3.range(rows.length).map(i => yRow(i)! + rowH / 2);
  const border = '#9c9893';
  const annot = (str: string, band: d3.ScaleBand<number>, yy: number, col: (c: string) => string, key: string) =>
    clean(str).split('').map((c, i) => (
      <rect key={`${key}${i}`} x={band(i)} y={yy} width={band.bandwidth()} height={7.6} fill={col(c)} stroke="#adadad" strokeWidth={0.7} />
    ));
  const cells = (mat: string[], band: d3.ScaleBand<number>, key: string) =>
    mat.map((row, r) => clean(row).split('').map((c, i) => (
      <rect key={`${key}${r}-${i}`} x={band(i)} y={yRow(r)} width={band.bandwidth()} height={rowH}
        fill={heatColor(parseInt(c, 16))} stroke={border} strokeWidth={0.85} />
    )));
  return (
    <g>
      <path d={dendroPath(colTree, leafPos, colDepth, true)} fill="none" stroke="#2b2b2b" strokeWidth={1} />
      <path d={dendroPath(rowTree, rowPos, rowDepth, false)} fill="none" stroke="#2b2b2b" strokeWidth={1.1} />
      {annot(lTemp, bandL, annY[0], c => tempColors[c], 'lt')}
      {annot(lTime, bandL, annY[1], c => timeColors[c], 'lh')}
      {annot('x'.repeat(nL), bandL, annY[2], () => sampleColor, 'ls')}
      {annot(rTemp, bandR, annY[0], c => tempColors[c], 'rt')}
      {annot(rTime, bandR, annY[1], c => timeColors[c], 'rh')}
      {annot('x'.repeat(nR), bandR, annY[2], () => sampleColor2, 'rs')}
      {cells(left, bandL, 'a')}
      {cells(right, bandR, 'b')}
      {['Temperature', 'Time', 'Sample'].map((t, i) => (
        <text key={t} x={labelX} y={annY[i] + 6.2} fontSize={7.2} fontWeight="bold" fill="#111">{t}</text>
      ))}
      {rows.map((t: string, i: number) => (
        <text key={t + i} x={labelX} y={yRow(i)! + 5.9} fontSize={7.2} fill="#222">{t}</text>
      ))}
    </g>
  );
}

const legendBar = d3.scaleLinear().domain([4, -2]).range([593, 682]);
const legendTicks = [4, 2, 0, -2];

export default function App() {
  const sq = (x: number, y: number, fill: string, h = 13.3) => (
    <rect x={x} y={y} width={13.3} height={h} fill={fill} stroke="#9c9c9c" strokeWidth={1.2} />
  );
  return (
    <svg width={765} height={1049} viewBox="0 0 765 1049" fontFamily={FONT} style={{ position: 'absolute', left: 0, top: 0 }}>
      <defs>
        <linearGradient id="bray" x1="0" x2="1" y1="0" y2="0">
          {[...heatStops].reverse().map((c, i) => <stop key={c} offset={i / (heatStops.length - 1)} stopColor={c} />)}
        </linearGradient>
      </defs>
      {panels.map(p => <Panel key={p.letter} p={p} />)}

      <text x={37} y={639} fontSize={11.8} fill="#222">Organisms</text>
      {taxonNames.map((t, i) => {
        const cy = i === 8 ? 675.7 : 656.3;
        return (
          <g key={t}>
            <circle cx={taxonLegendX[i]} cy={cy} r={4.6} fill={taxonColors[i]} />
            {i === 3
              ? <text fontSize={10.4} fill="#222"><tspan x={343} y={655}>Negativicutes</tspan><tspan x={343} y={665.2}>(Firmicutes)</tspan></text>
              : <text x={taxonLegendX[i] + 11.6} y={cy + 3.7} fontSize={10.4} fill="#222">{t}</text>}
          </g>
        );
      })}

      <text x={1} y={708} fontSize={17} fill="#111">E</text>
      <text x={26} y={708} fontSize={15} fill="#222">Pig feces</text>
      <text x={84} y={727} fontSize={12} fill="#222">P2</text>
      <text x={226} y={727} fontSize={12} fill="#222">P1</text>
      <Heatmap rows={eRows} left={eLeft} right={eRight} x0={53} x1={174} x2={177.3} x3={294} labelX={296.3}
        lTemp={eLeftTemp} lTime={eLeftTime} rTemp={eRightTemp} rTime={eRightTime}
        sampleColor="#b09a80" sampleColor2="#2c1e18" colTree={eColTree} rowTree={eRowTree} annY={[752.5, 762, 771]} heatY={780.7} />

      <text x={400} y={707} fontSize={17} fill="#111">F</text>
      <text x={431} y={708} fontSize={15} fill="#222">Sewage</text>
      <text x={464} y={732} fontSize={12} fill="#222">S2</text>
      <text x={603} y={732} fontSize={12} fill="#222">S1</text>
      <Heatmap rows={fRows} left={fLeft} right={fRight} x0={451.5} x1={568} x2={571.2} x3={692.3} labelX={695}
        lTemp={fLeftTemp} lTime={fLeftTime} rTemp={fRightTemp} rTime={fRightTime}
        sampleColor="#a9d27a" sampleColor2="#2f9e47" colTree={fColTree} rowTree={fRowTree} annY={[752.5, 762, 771]} heatY={780.3} />

      <text x={54} y={1015} fontSize={11.8} fill="#222">Temperature</text>
      {sq(60, 1027.7, tempColors.N)}
      <text x={77} y={1038} fontSize={9.3} fill="#222">NA (Immediate)</text>
      {sq(157, 1020.7, tempColors.B)}
      {sq(157, 1034, tempColors.L)}
      <text x={173} y={1031} fontSize={9.3} fill="#222">{'\u221280C'}</text>
      <text x={173} y={1044} fontSize={9.3} fill="#222">{'\u221220C'}</text>
      {sq(211, 1020.7, tempColors.S)}
      {sq(211, 1034, tempColors.R)}
      <text x={226.5} y={1031} fontSize={9.3} fill="#222">5C</text>
      <text x={226.5} y={1044} fontSize={9.3} fill="#222">22C</text>

      <text x={272} y={1015} fontSize={11.8} fill="#222">Time</text>
      {sq(280, 1027.7, '#fff')}
      <text x={295.6} y={1038} fontSize={9.3} fill="#222">0 h</text>
      {sq(322.5, 1020.7, timeColors.L)}
      {sq(322.5, 1034, timeColors.D)}
      <text x={338.7} y={1031} fontSize={9.3} fill="#222">16 h</text>
      <text x={338.7} y={1044} fontSize={9.3} fill="#222">64 h</text>

      <text x={382} y={1015} fontSize={11.8} fill="#222">Sample</text>
      {sq(391, 1020.7, '#2c1e18')}
      {sq(391, 1034, '#b09a80')}
      <text x={408} y={1031} fontSize={9.3} fill="#222">Pig feces 1</text>
      <text x={408} y={1044} fontSize={9.3} fill="#222">Pig feces 2</text>
      {sq(475, 1020.7, '#2f9e47')}
      {sq(475, 1034, '#a9d27a')}
      <text x={491.6} y={1031} fontSize={9.3} fill="#222">Sewage 1</text>
      <text x={491.6} y={1044} fontSize={9.3} fill="#222">Sewage 2</text>

      <rect x={568.6} y={1028.3} width={131} height={9} fill="url(#bray)" />
      {legendTicks.map(t => (
        <text key={t} x={legendBar(t)} y={1026} fontSize={7.4} textAnchor="middle" fill="#444">{t < 0 ? `\u2212${-t}` : t}</text>
      ))}
      <text x={638} y={1046} fontSize={7.9} textAnchor="middle" fill="#444">Bray Curtis dissimilarity</text>
    </svg>
  );
}
